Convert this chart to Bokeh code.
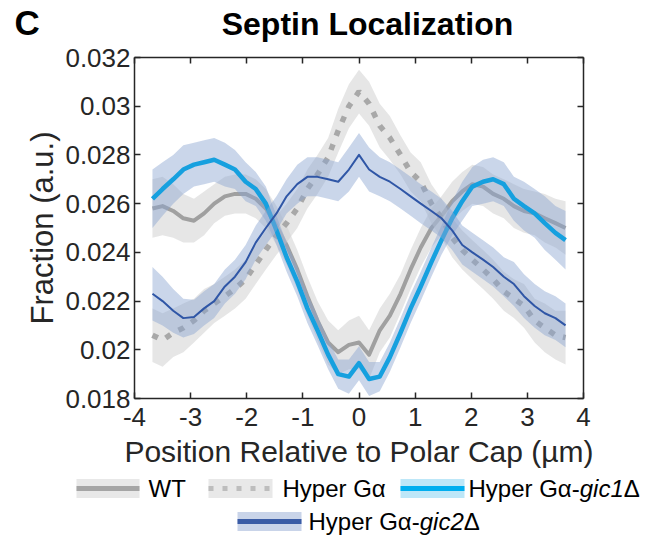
from bokeh.plotting import figure
from bokeh.models import Range1d, LinearAxis, FixedTicker
from bokeh.layouts import column
from bokeh.core.properties import value
from bokeh.embed import file_html
from bokeh.resources import INLINE

# ---------------- data ----------------
x_pos = [-3.68, -3.50, -3.31, -3.13, -2.94, -2.76, -2.58, -2.39, -2.21, -2.02,
         -1.84, -1.66, -1.47, -1.29, -1.10, -0.92, -0.74, -0.55, -0.37, -0.18,
         0.00, 0.18, 0.37, 0.55, 0.74, 0.92, 1.10, 1.29, 1.47, 1.66,
         1.84, 2.02, 2.21, 2.39, 2.58, 2.76, 2.94, 3.13, 3.31, 3.50, 3.68]

wt = [0.0258, 0.0259, 0.0257, 0.0254, 0.0253, 0.0256, 0.0260, 0.0263, 0.0264, 0.0264,
      0.0262, 0.0258, 0.0251, 0.0243, 0.0233, 0.0222, 0.0212, 0.0203, 0.0199, 0.0202,
      0.0203, 0.0198, 0.0208, 0.0214, 0.0223, 0.0233, 0.0242, 0.0250, 0.0255, 0.0261,
      0.0265, 0.0268, 0.0267, 0.0264, 0.0262, 0.0259, 0.0257, 0.0256, 0.0254, 0.0252, 0.0250]
wt_err = [0.0012, 0.0012, 0.0011, 0.0010, 0.0009, 0.0009, 0.0008, 0.0008, 0.0008, 0.0008,
          0.0008, 0.0008, 0.0008, 0.0008, 0.0008, 0.0008, 0.0008, 0.0009, 0.0009, 0.0010,
          0.0011, 0.0010, 0.0009, 0.0009, 0.0008, 0.0008, 0.0008, 0.0008, 0.0008, 0.0008,
          0.0008, 0.0008, 0.0008, 0.0008, 0.0008, 0.0009, 0.0009, 0.0009, 0.0010, 0.0010, 0.0011]

hyper = [0.0206, 0.0204, 0.0207, 0.0209, 0.0212, 0.0216, 0.0219, 0.0222, 0.0225, 0.0229,
         0.0235, 0.0241, 0.0247, 0.0252, 0.0258, 0.0266, 0.0272, 0.0279, 0.0290, 0.0300,
         0.0306, 0.0301, 0.0292, 0.0287, 0.0280, 0.0273, 0.0269, 0.0260, 0.0254, 0.0246,
         0.0241, 0.0237, 0.0233, 0.0229, 0.0224, 0.0221, 0.0218, 0.0212, 0.0209, 0.0206, 0.0205]
hyper_err = [0.0011, 0.0011, 0.0010, 0.0010, 0.0009, 0.0009, 0.0008, 0.0008, 0.0008, 0.0008,
             0.0008, 0.0008, 0.0008, 0.0008, 0.0008, 0.0008, 0.0008, 0.0008, 0.0009, 0.0009,
             0.0009, 0.0009, 0.0009, 0.0009, 0.0008, 0.0008, 0.0008, 0.0008, 0.0008, 0.0008,
             0.0008, 0.0008, 0.0008, 0.0008, 0.0008, 0.0008, 0.0009, 0.0009, 0.0010, 0.0010, 0.0011]

gic1 = [0.0262, 0.0266, 0.0270, 0.0274, 0.0276, 0.0277, 0.0278, 0.0276, 0.0274, 0.0269,
        0.0266, 0.0260, 0.0249, 0.0238, 0.0228, 0.0217, 0.0208, 0.0198, 0.0190, 0.0189,
        0.01945, 0.0188, 0.0189, 0.0197, 0.0207, 0.0217, 0.0226, 0.0236, 0.0245, 0.0254,
        0.0261, 0.0267, 0.0269, 0.0270, 0.0268, 0.0262, 0.0259, 0.0256, 0.0252, 0.0248, 0.0245]
gic1_err = [0.0012, 0.0011, 0.0010, 0.0010, 0.0009, 0.0009, 0.0009, 0.0009, 0.0008, 0.0008,
            0.0007, 0.0007, 0.0006, 0.0006, 0.0006, 0.0006, 0.0006, 0.0006, 0.0006, 0.0007,
            0.0007, 0.0007, 0.0006, 0.0006, 0.0006, 0.0006, 0.0006, 0.0006, 0.0006, 0.0007,
            0.0008, 0.0008, 0.0009, 0.0009, 0.0009, 0.0009, 0.0010, 0.0010, 0.0011, 0.0011, 0.0012]

gic2 = [0.0223, 0.0220, 0.0216, 0.0213, 0.02135, 0.0217, 0.0220, 0.0226, 0.0230, 0.0236,
        0.0244, 0.0250, 0.0256, 0.0263, 0.0268, 0.0271, 0.0271, 0.0270, 0.0269, 0.0274,
        0.0280, 0.0274, 0.0271, 0.0269, 0.0266, 0.0263, 0.0260, 0.0257, 0.0254, 0.0249,
        0.0243, 0.0240, 0.0237, 0.0234, 0.0230, 0.0227, 0.0222, 0.0218, 0.0215, 0.0213, 0.0210]
gic2_err = [0.0011, 0.0010, 0.0009, 0.0008, 0.0007, 0.0007, 0.0007, 0.0007, 0.0007, 0.0007,
            0.0007, 0.0007, 0.0007, 0.0007, 0.0008, 0.0008, 0.0008, 0.0008, 0.0008, 0.0009,
            0.0009, 0.0009, 0.0008, 0.0008, 0.0008, 0.0008, 0.0008, 0.0008, 0.0008, 0.0008,
            0.0008, 0.0008, 0.0008, 0.0008, 0.0008, 0.0009, 0.0009, 0.0009, 0.0009, 0.0009, 0.0009]

x_ticks = [-4, -3, -2, -1, 0, 1, 2, 3, 4]
x_tick_labels = ["-4", "-3", "-2", "-1", "0", "1", "2", "3", "4"]
y_ticks = [0.018, 0.020, 0.022, 0.024, 0.026, 0.028, 0.030, 0.032]
y_tick_labels = ["0.018", "0.02", "0.022", "0.024", "0.026", "0.028", "0.03", "0.032"]

panel_letter = "C"
title_text = "Septin Localization"
x_label = "Position Relative to Polar Cap (\u00b5m)"
y_label = "Fraction (a.u.)"
legend_plain = ["WT", "Hyper G\u03b1", "Hyper G\u03b1-", "Hyper G\u03b1-"]
legend_italic = ["gic1", "gic2"]
legend_tail = ["\u0394", "\u0394"]

FONT = "Liberation Sans"
AX = "#262626"
W = 644

# ---------------- header strip (panel letter + title) ----------------
HH = 42
hd = figure(width=W, height=HH, x_range=Range1d(0, W), y_range=Range1d(HH, 0),
            x_axis_type=None, y_axis_type=None, output_backend="svg",
            toolbar_location=None, min_border=0)
hd.frame_align = False
hd.grid.visible = False
hd.outline_line_color = None
hd.text(x=[14], y=[22], text=[panel_letter], text_font=value(FONT),
        text_font_size=value("35px"), text_font_style="bold", text_color="black",
        text_baseline="middle", text_align="left")
hd.text(x=[367], y=[23], text=[title_text], text_font=value(FONT),
        text_font_size=value("32px"), text_font_style="bold", text_color="black",
        text_baseline="middle", text_align="center")

# ---------------- main plot ----------------
p = figure(width=W, height=430, x_range=Range1d(-4, 4), y_range=Range1d(0.018, 0.032),
           output_backend="svg", toolbar_location=None,
           min_border_left=134, min_border_right=61, min_border_top=15, min_border_bottom=74)
p.frame_align = False
p.grid.visible = False
p.outline_line_color = None


def lo(v, e):
    return [a - b for a, b in zip(v, e)]


def hi(v, e):
    return [a + b for a, b in zip(v, e)]


gray_band = "#d2d2d2"
blue_band = "#8aa5d0"

p.varea(x=x_pos, y1=lo(wt, wt_err), y2=hi(wt, wt_err), fill_color=gray_band, fill_alpha=0.55)
p.line(x=x_pos, y=wt, line_color="#a0a0a0", line_width=4, line_join="round")

p.varea(x=x_pos, y1=lo(hyper, hyper_err), y2=hi(hyper, hyper_err), fill_color=gray_band, fill_alpha=0.55)
p.line(x=x_pos, y=hyper, line_color="#a8a8a8", line_width=5.5, line_dash="6 9", line_cap="butt")

p.varea(x=x_pos, y1=lo(gic1, gic1_err), y2=hi(gic1, gic1_err), fill_color=blue_band, fill_alpha=0.45)
p.line(x=x_pos, y=gic1, line_color="#16a0df", line_width=4.5, line_join="round")

p.varea(x=x_pos, y1=lo(gic2, gic2_err), y2=hi(gic2, gic2_err), fill_color=blue_band, fill_alpha=0.45)
p.line(x=x_pos, y=gic2, line_color="#2f56a6", line_width=2, line_join="round")


def style_axis(ax, show_labels=True):
    ax.axis_line_color = AX
    ax.axis_line_width = 1.5
    ax.major_tick_line_color = AX
    ax.major_tick_line_width = 1.5
    ax.major_tick_in = 6
    ax.major_tick_out = 0
    ax.minor_tick_line_color = None
    ax.major_label_text_font = FONT
    ax.major_label_text_color = AX
    if show_labels:
        ax.major_label_text_font_size = "26px"
    else:
        ax.major_label_text_font_size = "1px"
        ax.major_label_text_color = None
        ax.major_label_standoff = 0


xa = p.xaxis[0]
xa.ticker = FixedTicker(ticks=x_ticks)
xa.major_label_overrides = {t: s for t, s in zip(x_ticks, x_tick_labels)}
style_axis(xa)
xa.major_label_standoff = 9
xa.axis_label = x_label
xa.axis_label_text_font = FONT
xa.axis_label_text_font_size = "30px"
xa.axis_label_text_font_style = "normal"
xa.axis_label_text_color = AX
xa.axis_label_standoff = 6

ya = p.yaxis[0]
ya.ticker = FixedTicker(ticks=y_ticks)
ya.major_label_overrides = {t: s for t, s in zip(y_ticks, y_tick_labels)}
style_axis(ya)
ya.major_label_standoff = 4
ya.axis_label = y_label
ya.axis_label_text_font = FONT
ya.axis_label_text_font_size = "31px"
ya.axis_label_text_font_style = "normal"
ya.axis_label_text_color = AX
ya.axis_label_standoff = 2

top_ax = LinearAxis(ticker=FixedTicker(ticks=x_ticks))
style_axis(top_ax, show_labels=False)
p.add_layout(top_ax, "above")
right_ax = LinearAxis(ticker=FixedTicker(ticks=y_ticks))
style_axis(right_ax, show_labels=False)
p.add_layout(right_ax, "right")

# ---------------- legend strip ----------------
LH = 64
lg = figure(width=W, height=LH, x_range=Range1d(0, W), y_range=Range1d(LH, 0),
            x_axis_type=None, y_axis_type=None, output_backend="svg",
            toolbar_location=None, min_border=0)
lg.frame_align = False
lg.grid.visible = False
lg.outline_line_color = None

r1, r2 = 16, 49
sw_h = 9.5
sw_left = [76, 208, 400, 237]
sw_right = [139, 272, 464, 301]
sw_y = [r1, r1, r1, r2]
sw_fill = ["#e8e8e8", "#e8e8e8", "#bde7f8", "#c9d4e9"]
sw_line = ["#a5a5a5", "#bdbdbd", "#00aeef", "#3a5ca6"]
sw_dash = ["solid", "5 9", "solid", "solid"]
for i in range(4):
    lg.quad(left=[sw_left[i]], right=[sw_right[i]], top=[sw_y[i] - sw_h], bottom=[sw_y[i] + sw_h],
            fill_color=sw_fill[i], line_color=None)
    lg.segment(x0=[sw_left[i]], x1=[sw_right[i]], y0=[sw_y[i]], y1=[sw_y[i]],
               line_color=sw_line[i], line_width=5, line_dash=sw_dash[i], line_cap="butt")

fs = value("24px")
lg.text(x=[148, 282, 468, 308], y=[r1, r1, r1, r2], text=legend_plain,
        text_font=value(FONT), text_font_size=fs, text_color="black",
        text_baseline="middle", text_align="left")
lg.text(x=[579.2, 419.2], y=[r1, r2], text=legend_italic,
        text_font=value(FONT), text_font_size=fs, text_font_style="italic",
        text_color="black", text_baseline="middle", text_align="left")
lg.text(x=[623.2, 463.2], y=[r1, r2], text=legend_tail,
        text_font=value(FONT), text_font_size=fs, text_color="black",
        text_baseline="middle", text_align="left")

layout = column(hd, p, lg, spacing=0)
open("out.html", "w").write(file_html(layout, INLINE))
